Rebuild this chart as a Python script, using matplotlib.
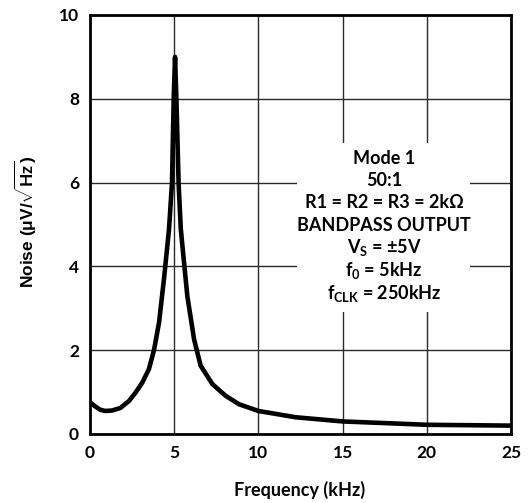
import matplotlib
matplotlib.use("Agg")
import matplotlib.pyplot as plt
from matplotlib.patches import Rectangle

plt.rcParams['font.family'] = ['Lato', 'DejaVu Sans']
plt.rcParams['font.weight'] = 'bold'
plt.rcParams['mathtext.fontset'] = 'custom'
plt.rcParams['mathtext.rm'] = 'Lato:bold'
plt.rcParams['mathtext.bf'] = 'Lato:bold'
plt.rcParams['mathtext.it'] = 'Lato:bold'

freq_khz = [0.0, 0.3, 0.6, 0.9, 1.3, 1.8, 2.32, 2.71, 3.11, 3.5, 3.8, 4.1, 4.39, 4.59, 4.69,
            4.87, 4.97, 5.05, 5.13, 5.26, 5.39, 5.49, 5.78, 6.18, 6.57, 7.27, 8.06, 8.85,
            10.0, 12.2, 15.0, 18.15, 20.0, 25.0]
noise = [0.76, 0.66, 0.58, 0.55, 0.56, 0.62, 0.79, 0.99, 1.23, 1.55, 2.0, 2.66, 3.69, 4.48, 4.88,
         6.0, 8.0, 9.0, 8.0, 6.0, 4.9, 4.48, 3.29, 2.26, 1.63, 1.19, 0.91, 0.71,
         0.55, 0.40, 0.30, 0.25, 0.22, 0.20]

x_ticks = [0, 5, 10, 15, 20, 25]
y_ticks = [0, 2, 4, 6, 8, 10]

note_lines = ["Mode 1", "50:1", "R1 = R2 = R3 = 2kΩ", "BANDPASS OUTPUT",
              r"V$_\mathbf{S}$ = ±5V", r"f$_\mathbf{0}$ = 5kHz", r"f$_\mathbf{CLK}$ = 250kHz"]

W, H = 531, 503
L, R, T, B = 90, 511, 15, 434
fig = plt.figure(figsize=(W / 100, H / 100), dpi=100)
ax = fig.add_axes([L / W, (H - B) / H, (R - L) / W, (B - T) / H])

def ax_xy(px, py):
    return (px - L) / (R - L), (B - py) / (B - T)

ax.plot(freq_khz, noise, color='black', lw=3.3, solid_joinstyle='round',
        solid_capstyle='butt', zorder=3)
ax.set_xlim(0, 25)
ax.set_ylim(0, 10)
ax.set_xticks(x_ticks)
ax.set_yticks(y_ticks)
ax.tick_params(length=0, labelsize=12.5)
ax.tick_params(axis='x', pad=8)
ax.tick_params(axis='y', pad=8)
for lab in ax.get_xticklabels() + ax.get_yticklabels():
    lab.set_fontweight('bold')
ax.grid(True, color='#2a2a2a', lw=1.0, zorder=1)
for s in ax.spines.values():
    s.set_linewidth(2.0)
    s.set_zorder(5)

ax.set_xlabel("Frequency (kHz)", fontsize=13, fontweight='bold')
ax.xaxis.set_label_coords(*ax_xy(300, 490))
ax.xaxis.label.set_va('center')
ax.set_ylabel(r"Noise (μV/$\sqrt{\mathbf{Hz}}$)", fontsize=12.5, fontweight='bold',
              family=['Liberation Sans', 'DejaVu Sans'])
ax.yaxis.set_label_coords(*ax_xy(26, 222))
ax.yaxis.label.set_va('center')

# white box behind annotation
bx0, by0 = ax_xy(297, 312)
bx1, by1 = ax_xy(470, 143)
ax.add_patch(Rectangle((bx0, by0), bx1 - bx0, by1 - by0, transform=ax.transAxes,
                       facecolor='white', edgecolor='none', zorder=2))

y0 = 158
for i, t in enumerate(note_lines):
    ypx = y0 + i * 22.5
    ax.text(*ax_xy(384, ypx), t, transform=ax.transAxes,
            ha='center', va='center', fontsize=13, fontweight='bold', zorder=4)

fig.savefig("out.png", dpi=100)
